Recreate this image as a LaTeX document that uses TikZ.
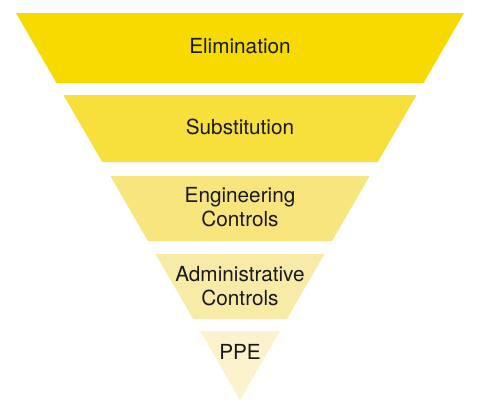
\documentclass[tikz,border=0pt]{standalone}
\usepackage{fontspec}
\setmainfont{TeX Gyre Heros}
\definecolor{bandone}{HTML}{F6DA00}
\definecolor{bandtwo}{HTML}{F7DF3C}
\definecolor{bandthree}{HTML}{F8E57E}
\definecolor{bandfour}{HTML}{F8EBA8}
\definecolor{bandfive}{HTML}{FCF3CD}
\tikzset{
  bandlabel/.style={anchor=base, align=center, text=black!90,
    font=\fontsize{11.8}{13.6}\selectfont, inner sep=0pt}
}
\begin{document}
\begin{tikzpicture}
  \useasboundingbox (0,0) rectangle (10,8.16);
  % draw the five bands of the inverted triangle
  \fill[bandone] (0.32,7.90) -- (9.28,7.90) -- (8.470,6.50) -- (1.130,6.50) -- cycle;
  \fill[bandtwo] (1.269,6.26) -- (8.331,6.26) -- (7.555,4.92) -- (2.045,4.92) -- cycle;
  \fill[bandthree] (2.207,4.64) -- (7.393,4.64) -- (6.641,3.34) -- (2.959,3.34) -- cycle;
  \fill[bandfour] (3.110,3.08) -- (6.490,3.08) -- (5.738,1.78) -- (3.862,1.78) -- cycle;
  \fill[bandfive] (4.001,1.54) -- (5.599,1.54) -- (4.8,0.16) -- cycle;
  % labels (base = last line)
  \node[bandlabel] (elim) at (4.8,7.094) {Elimination};
  \node[bandlabel] (subst) at (4.8,5.48) {Substitution};
  \node[bandlabel] (eng) at (4.8,3.64) {Engineering\\Controls};
  \node[bandlabel] (admin) at (4.8,2.06) {Administrative\\Controls};
  \node[bandlabel] (ppe) at (4.8,0.973) {PPE};
\end{tikzpicture}
\end{document}
